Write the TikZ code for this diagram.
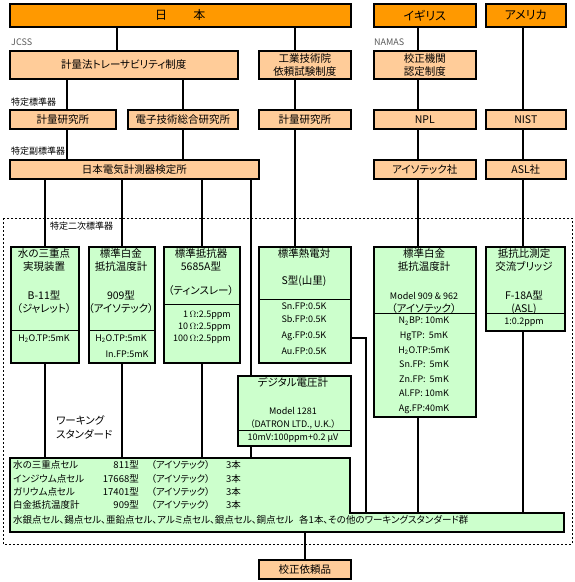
\documentclass[tikz,border=0pt]{standalone}
\usepackage{fontspec}
\setmainfont{Noto Sans CJK JP}[RawFeature={+palt}]
\usepackage{xcolor}
\usepackage{tikz}
\usetikzlibrary{positioning}

\definecolor{ctryfill}{RGB}{255,153,0}
\definecolor{instfill}{RGB}{255,204,153}
\definecolor{stdfill}{RGB}{204,255,204}

\begin{document}
\begin{tikzpicture}[
  x=1pt, y=-1pt,
  ctrybox/.style={draw=black, line width=1.6pt, fill=ctryfill, inner sep=0pt, anchor=north west, font=\fontsize{12}{14}\selectfont},
  instbox/.style={draw=black, line width=1.6pt, fill=instfill, inner sep=0pt, anchor=north west, align=center, font=\fontsize{10.5}{13}\selectfont},
  stdbox/.style={draw=black, line width=1.6pt, fill=stdfill, inner sep=0pt, anchor=north west},
  stdtxt/.style={inner sep=0pt, anchor=north, align=center, font=\fontsize{10.5}{13}\selectfont},
  valtxt/.style={inner sep=0pt, align=center, font=\fontsize{9}{13}\selectfont},
  wstxt/.style={inner sep=0pt, anchor=west, font=\fontsize{9.5}{12}\selectfont},
  lab/.style={inner sep=0pt, anchor=west, font=\fontsize{9}{11}\selectfont},
  link/.style={draw=black, line width=2.2pt},
  divline/.style={draw=black, line width=0.8pt},
  frame/.style={draw=black, line width=0.8pt, dash pattern=on 2pt off 2pt}
]
\useasboundingbox (0,0) rectangle (575,582);

% frame of the secondary standards
\draw[frame] (3,218) rectangle (572,544);

% countries
\node[ctrybox, minimum width=341pt, minimum height=23pt] (japan) at (9,3) {日\hspace{2.2em}本};
\node[ctrybox, minimum width=102pt, minimum height=23pt] (uk) at (373,3) {イギリス};
\node[ctrybox, minimum width=80pt, minimum height=23pt] (usa) at (485,3) {アメリカ};

% systems
\node[lab, text=gray!70!black] (jcsslab) at (11,42) {JCSS};
\node[lab, text=gray!70!black] (namaslab) at (374,42) {NAMAS};
\node[instbox, minimum width=228pt, minimum height=28pt] (jcss) at (9,50) {計量法トレーサビリティ制度};
\node[instbox, minimum width=92pt, minimum height=28pt] (aist) at (258,50) {工業技術院\\依頼試験制度};
\node[instbox, minimum width=102pt, minimum height=28pt] (namas) at (373,50) {校正機関\\認定制度};

% national standards
\node[lab] (tokutei) at (11,102) {特定標準器};
\node[instbox, minimum width=106pt, minimum height=19pt] (nrlm) at (9,109) {計量研究所};
\node[instbox, minimum width=110pt, minimum height=19pt] (etl) at (127,109) {電子技術総合研究所};
\node[instbox, minimum width=92pt, minimum height=19pt] (nrlm2) at (258,109) {計量研究所};
\node[instbox, minimum width=102pt, minimum height=19pt] (npl) at (373,109) {NPL};
\node[instbox, minimum width=80pt, minimum height=19pt] (nist) at (485,109) {NIST};

% sub-standards
\node[lab] (fuku) at (11,151) {特定副標準器};
\node[instbox, minimum width=249pt, minimum height=19pt] (jemic) at (9,159) {日本電気計測器検定所};
\node[instbox, minimum width=102pt, minimum height=19pt] (isotech) at (373,159) {アイソテック社};
\node[instbox, minimum width=80pt, minimum height=19pt] (asl) at (485,159) {ASL社};

% secondary standards
\node[lab] (niji) at (50,226) {特定二次標準器};

\node[stdbox, minimum width=68pt, minimum height=116pt] (wtp) at (10,246) {};
\draw[divline] (wtp.west |- 0,330) -- (wtp.east |- 0,330);
\node[stdtxt] (wtp-a) at (44,248) {水の三重点\\実現装置\\[16pt]B-11型\\（ジャレット）};
\node[valtxt] (wtp-b) at (44,339) {H\textsubscript{2}O.TP:5mK};

\node[stdbox, minimum width=66pt, minimum height=116pt] (pt1) at (88,246) {};
\draw[divline] (pt1.west |- 0,330) -- (pt1.east |- 0,330);
\node[stdtxt] (pt1-a) at (121,248) {標準白金\\抵抗温度計\\[16pt]909型\\（アイソテック）};
\node[valtxt] (pt1-b) at (121,339) {H\textsubscript{2}O.TP:5mK};
\node[valtxt] (pt1-c) at (127,354) {In.FP:5mK};

\node[stdbox, minimum width=76pt, minimum height=116pt] (res) at (163,246) {};
\draw[divline] (res.west |- 0,304) -- (res.east |- 0,304);
\node[stdtxt] (res-a) at (201,248) {標準抵抗器\\5685A型\\[11pt]（ティンスレー）};
\node[valtxt, align=right, anchor=east, font=\fontsize{9}{12}\selectfont] (res-b) at (231,327) {1$\,\Omega$:2.5ppm\\10$\,\Omega$:2.5ppm\\100$\,\Omega$:2.5ppm};

\node[stdbox, minimum width=92pt, minimum height=116pt] (thermo) at (258,246) {};
\draw[divline] (thermo.west |- 0,299) -- (thermo.east |- 0,299);
\node[stdtxt] (thermo-a) at (304,248) {標準熱電対\\[14pt]S型(山里)};
\node[valtxt, anchor=north] (thermo-b) at (304,303) {Sn.FP:0.5K\\Sb.FP:0.5K\\[3pt]Ag.FP:0.5K\\[3pt]Au.FP:0.5K};

\node[stdbox, minimum width=102pt, minimum height=170pt] (pt2) at (373,246) {};
\draw[divline] (pt2.west |- 0,313) -- (pt2.east |- 0,313);
\node[stdtxt] (pt2-a) at (424,248) {標準白金\\抵抗温度計\\[16pt]{\fontsize{9}{13}\selectfont Model 909 \& 962}\\（アイソテック）};
\node[valtxt, anchor=north, font=\fontsize{9}{14.6}\selectfont] (pt2-b) at (424,317) {N\textsubscript{2}BP: 10mK\\HgTP:\ \ 5mK\\H\textsubscript{2}O.TP:5mK\\Sn.FP:\ \ 5mK\\Zn.FP:\ \ 5mK\\Al.FP: 10mK\\Ag.FP:40mK};

\node[stdbox, minimum width=79pt, minimum height=84pt] (bridge) at (485,246) {};
\draw[divline] (bridge.west |- 0,313) -- (bridge.east |- 0,313);
\node[stdtxt] (bridge-a) at (524,248) {抵抗比測定\\交流ブリッジ\\[16pt]F-18A型\\(ASL)};
\node[valtxt] (bridge-b) at (524,322) {1:0.2ppm};

\node[stdbox, minimum width=113pt, minimum height=70pt] (dvm) at (237,375) {};
\draw[divline] (dvm.west |- 0,430) -- (dvm.east |- 0,430);
\node[stdtxt] (dvm-a) at (293,377) {デジタル電圧計};
\node[valtxt, font=\fontsize{9}{13}\selectfont] (dvm-b) at (293,418) {Model 1281\\（DATRON LTD., U.K.）};
\node[valtxt] (dvm-c) at (293,438) {10mV:100ppm+0.2 μV};

% working standards
\node[inner sep=0pt, anchor=north west, align=left, font=\fontsize{10.5}{14}\selectfont] (wslab) at (56,415) {ワーキング\\スタンダード};
\draw[line width=1.6pt, fill=stdfill] (10,458) -- (350,458) -- (350,513) -- (564,513) -- (564,532) -- (10,532) -- cycle;
\coordinate (wstop) at (10,458);
\coordinate (wsstep) at (350,513);
\coordinate (wsbot) at (10,532);
\foreach \i/\y/\a/\b in {1/465/水の三重点セル/811型, 2/479/インジウム点セル/17668型, 3/492/ガリウム点セル/17401型, 4/505/白金抵抗温度計/909型}{
  \node[wstxt] (ws\i a) at (13,\y) {\a};
  \node[wstxt, anchor=east] (ws\i b) at (139,\y) {\b};
  \node[wstxt] (ws\i c) at (151,\y) {（アイソテック）};
  \node[wstxt] (ws\i d) at (226,\y) {3本};
}
\node[wstxt] (ws5) at (13,520) {水銀点セル、錫点セル、亜鉛点セル、アルミ点セル、銀点セル、銅点セル\hspace{0.6em}各1本、その他のワーキングスタンダード群};

\node[instbox, minimum width=92pt, minimum height=19pt] (client) at (258,559) {校正依頼品};

% connectors
\draw[link] (japan.south -| 117,0) -- (jcss.north -| 117,0);
\draw[link] (jcss.south -| 67,0) -- (nrlm.north -| 67,0);
\draw[link] (nrlm.south -| 67,0) -- (jemic.north -| 67,0);
\draw[link] (jcss.south -| etl.north) -- (etl.north);
\draw[link] (etl.south) -- (etl.south |- jemic.north);
\draw[link] (japan.south -| 295,0) -- (aist.north -| 295,0);
\draw[link] (aist.south -| 295,0) -- (nrlm2.north -| 295,0);
\draw[link] (nrlm2.south -| 295,0) -- (thermo.north -| 295,0);
\draw[link] (uk.south -| 418,0) -- (namas.north -| 418,0);
\draw[link] (namas.south -| 418,0) -- (npl.north -| 418,0);
\draw[link] (npl.south -| 418,0) -- (isotech.north -| 418,0);
\draw[link] (isotech.south -| 418,0) -- (pt2.north -| 418,0);
\draw[link] (usa.south -| 523,0) -- (nist.north -| 523,0);
\draw[link] (nist.south -| 523,0) -- (asl.north -| 523,0);
\draw[link] (asl.south -| 523,0) -- (bridge.north -| 523,0);
\draw[link] (jemic.south -| wtp.north) -- (wtp.north);
\draw[link] (jemic.south -| pt1.north) -- (pt1.north);
\draw[link] (jemic.south -| res.north) -- (res.north);
\draw[link] (jemic.south -| 251,0) -- (dvm.north -| 251,0);
\draw[link] (wtp.south) -- (wtp.south |- wstop);
\draw[link] (pt1.south) -- (pt1.south |- wstop);
\draw[link] (res.south) -- (res.south |- wstop);
\draw[link] (dvm.south -| 251,0) -- (wstop -| 251,0);
\draw[link] (thermo.east |- 0,338) -| (wsstep -| 366,0);
\draw[link] (pt2.south -| 418,0) -- (wsstep -| 418,0);
\draw[link] (bridge.south -| 523,0) -- (wsstep -| 523,0);
\draw[link] (client.north) -- (client.north |- wsbot);

\end{tikzpicture}
\end{document}
